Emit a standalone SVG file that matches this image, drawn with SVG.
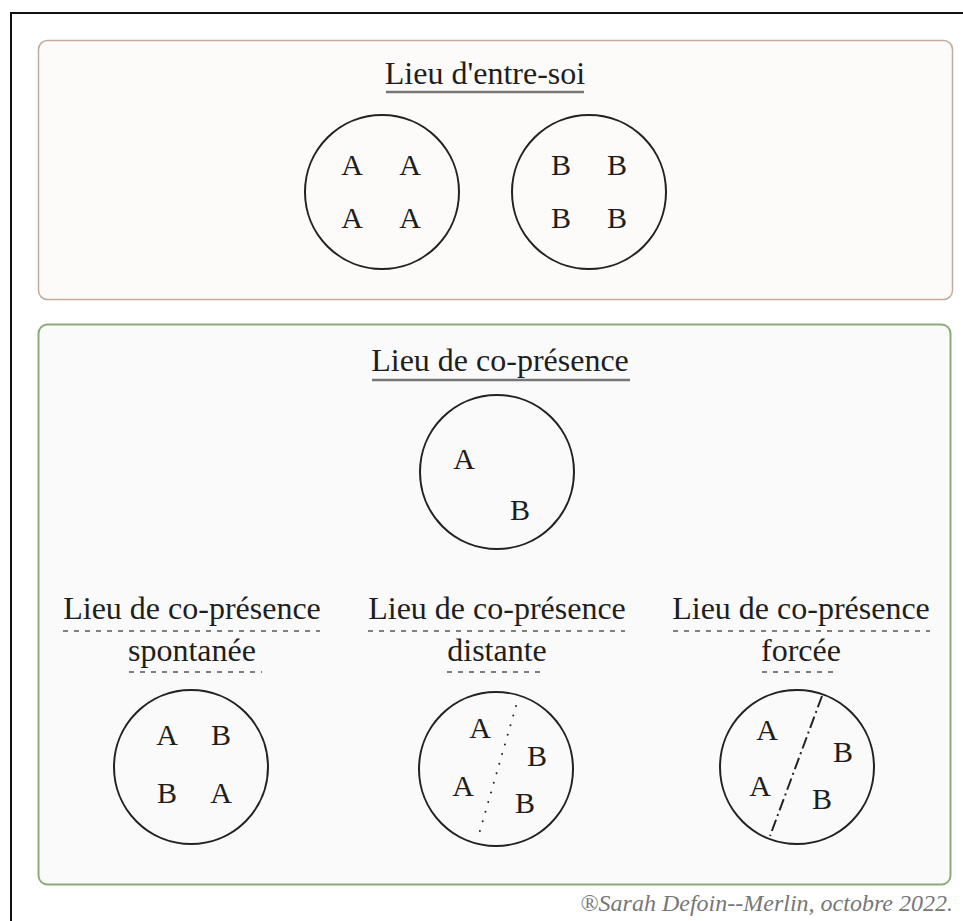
<svg xmlns="http://www.w3.org/2000/svg" width="963" height="921" viewBox="0 0 963 921">
<style>
text{font-family:"Liberation Serif","Times New Roman",serif;fill:#1e1e1e}
.t{font-size:32px;text-anchor:middle}
.l{font-size:30px;text-anchor:middle}
.c{fill:none;stroke:#222;stroke-width:2}
.u{stroke:#777;stroke-width:2.5}
.d{stroke:#555;stroke-width:1.3;stroke-dasharray:5 6}
</style>
<rect width="963" height="921" fill="#fff"/>
<path d="M11 921 V13 H963" fill="none" stroke="#111" stroke-width="2"/>
<g id="entre-soi">
<rect x="38.5" y="40.5" width="914" height="259" rx="9" fill="#fcfbfa" stroke="#c2ab9c" stroke-width="1.5"/>
<text class="t" x="485" y="84">Lieu d'entre-soi</text>
<line class="u" x1="386" y1="92" x2="584" y2="92"/>
<circle class="c" cx="382" cy="192" r="77"/>
<text class="l" x="352" y="175">A</text><text class="l" x="410" y="175">A</text>
<text class="l" x="352" y="228">A</text><text class="l" x="410" y="228">A</text>
<circle class="c" cx="589" cy="192" r="77"/>
<text class="l" x="561" y="175">B</text><text class="l" x="617" y="175">B</text>
<text class="l" x="561" y="228">B</text><text class="l" x="617" y="228">B</text>
</g>
<g id="co-presence">
<rect x="38.5" y="324.5" width="912" height="560" rx="9" fill="#fafafa" stroke="#8aab78" stroke-width="2"/>
<text class="t" x="500" y="371">Lieu de co-présence</text>
<line class="u" x1="372" y1="380" x2="630" y2="380"/>
<circle class="c" cx="497" cy="472" r="77"/>
<text class="l" x="464" y="469">A</text>
<text class="l" x="520" y="520">B</text>
</g>
<g id="spontanee">
<text class="t" x="192" y="619">Lieu de co-présence</text>
<line class="d" x1="63" y1="631" x2="320" y2="631"/>
<text class="t" x="192" y="661">spontanée</text>
<line class="d" x1="129" y1="672" x2="262" y2="672"/>
<circle class="c" cx="191" cy="767" r="77"/>
<text class="l" x="167" y="745">A</text><text class="l" x="221" y="745">B</text>
<text class="l" x="167" y="803">B</text><text class="l" x="221" y="803">A</text>
</g>
<g id="distante">
<text class="t" x="497" y="619">Lieu de co-présence</text>
<line class="d" x1="368" y1="631" x2="625" y2="631"/>
<text class="t" x="497" y="661">distante</text>
<line class="d" x1="447" y1="672" x2="545" y2="672"/>
<circle class="c" cx="496" cy="769" r="77"/>
<line x1="516" y1="706" x2="479" y2="834" stroke="#222" stroke-width="2" stroke-linecap="round" stroke-dasharray="0 10"/>
<text class="l" x="480" y="738">A</text><text class="l" x="537" y="766">B</text>
<text class="l" x="463" y="796">A</text><text class="l" x="525" y="813">B</text>
</g>
<g id="forcee">
<text class="t" x="801" y="619">Lieu de co-présence</text>
<line class="d" x1="673" y1="631" x2="930" y2="631"/>
<text class="t" x="801" y="661">forcée</text>
<line class="d" x1="762" y1="672" x2="834" y2="672"/>
<circle class="c" cx="797" cy="767" r="77"/>
<line x1="822" y1="696" x2="770" y2="836" stroke="#222" stroke-width="2" stroke-dasharray="12 4 2 4"/>
<text class="l" x="767" y="740">A</text><text class="l" x="843" y="762">B</text>
<text class="l" x="760" y="796">A</text><text class="l" x="822" y="809">B</text>
</g>
<text x="953" y="911" text-anchor="end" style="font-size:24px;fill:#777"><tspan>®</tspan><tspan font-style="italic">Sarah Defoin--Merlin, octobre 2022.</tspan></text>
</svg>
